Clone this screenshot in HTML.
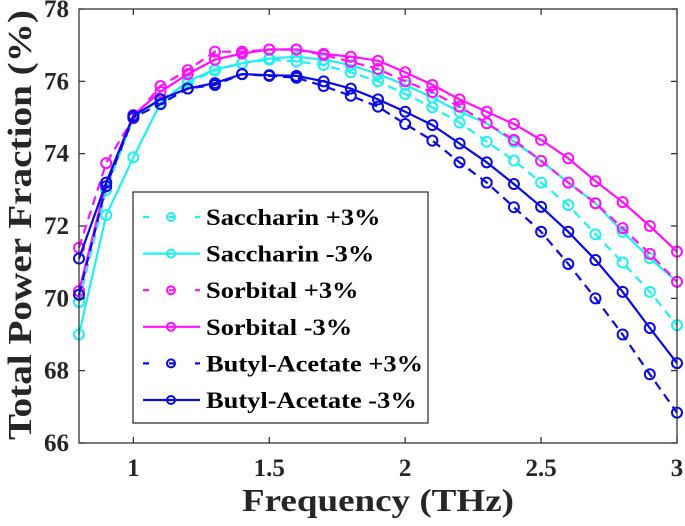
<!DOCTYPE html>
<html><head><meta charset="utf-8"><style>
html,body{margin:0;padding:0;background:#fff}
svg{display:block;font-family:"Liberation Serif",serif;font-weight:bold}
</style></head><body>
<svg id="chart" width="685" height="526"></svg>
<script>
const xValues=[0.8,0.9,1.0,1.1,1.2,1.3,1.4,1.5,1.6,1.7,1.8,1.9,2.0,2.1,2.2,2.3,2.4,2.5,2.6,2.7,2.8,2.9,3.0];
const saccharinPlus=[69.9,73.0,75.0,75.5,75.95,76.3,76.5,76.6,76.55,76.45,76.25,76.0,75.65,75.28,74.86,74.33,73.81,73.2,72.58,71.77,70.99,70.18,69.26];
const saccharinMinus=[69.0,72.3,73.9,75.4,76.0,76.33,76.5,76.63,76.68,76.6,76.45,76.2,75.9,75.55,75.16,74.84,74.33,73.8,73.2,72.63,71.84,71.11,70.46];
const sorbitalPlus=[71.4,73.74,74.98,75.87,76.31,76.82,76.82,76.88,76.88,76.73,76.54,76.34,76.0,75.7,75.3,74.84,74.38,73.8,73.2,72.63,71.94,71.23,70.46];
const sorbitalMinus=[70.2,73.2,75.07,75.71,76.2,76.6,76.77,76.88,76.88,76.76,76.68,76.57,76.25,75.9,75.5,75.16,74.82,74.38,73.87,73.24,72.66,72.0,71.29];
const butylPlus=[70.1,73.1,75.0,75.37,75.8,75.9,76.2,76.15,76.1,75.87,75.6,75.3,74.82,74.36,73.76,73.2,72.52,71.84,70.95,70.0,69.0,67.9,66.84];
const butylMinus=[71.1,73.2,75.05,75.5,75.8,75.95,76.2,76.17,76.15,76.0,75.8,75.5,75.16,74.79,74.28,73.76,73.16,72.53,71.84,71.06,70.18,69.18,68.21];
const seriesNames=["Saccharin +3%","Saccharin -3%","Sorbital +3%","Sorbital -3%","Butyl-Acetate +3%","Butyl-Acetate -3%"];
const xTicks=[1,1.5,2,2.5,3];
const xTickLabels=["1","1.5","2","2.5","3"];
const yTicks=[66,68,70,72,74,76,78];
const yTickLabels=["66","68","70","72","74","76","78"];

const svg=document.getElementById('chart');
const NS='http://www.w3.org/2000/svg';
const L=79,R=677,T=9,B=443,xMin=0.8,xMax=3.0,yMin=66,yMax=78;
const sx=v=>L+(v-xMin)/(xMax-xMin)*(R-L);
const sy=v=>B-(v-yMin)/(yMax-yMin)*(B-T);
function mk(tag,attrs,parent){const e=document.createElementNS(NS,tag);for(const k in attrs)e.setAttribute(k,attrs[k]);(parent||svg).appendChild(e);return e;}

const series=[
 {d:saccharinPlus,c:'#20f0f0',dash:true,n:'saccharin-plus'},
 {d:saccharinMinus,c:'#20f0f0',dash:false,n:'saccharin-minus'},
 {d:sorbitalPlus,c:'#ff10ff',dash:true,n:'sorbital-plus'},
 {d:sorbitalMinus,c:'#ff10ff',dash:false,n:'sorbital-minus'},
 {d:butylPlus,c:'#0a0ae6',dash:true,n:'butyl-acetate-plus'},
 {d:butylMinus,c:'#0a0ae6',dash:false,n:'butyl-acetate-minus'}
];
series.forEach(s=>{
 const g=mk('g',{});
 
 
 const pts=s.d.map((v,i)=>sx(xValues[i]).toFixed(1)+','+sy(v).toFixed(1)).join(' ');
 const pl=mk('polyline',{points:pts,fill:'none',stroke:s.c,'stroke-width':2.2,'stroke-dasharray':s.dash?'9,6':'none'},g);
 
 
 s.d.forEach((v,i)=>{
  const c=mk('circle',{cx:sx(xValues[i]),cy:sy(v),r:5,fill:'none',stroke:s.c,'stroke-width':2},g);
  
  
 });
});

const fr=mk('rect',{x:L,y:T,width:R-L,height:B-T,fill:'none',stroke:'#262626','stroke-width':1.2});


xTicks.forEach((t,i)=>{
 mk('line',{x1:sx(t),x2:sx(t),y1:B,y2:B-6,stroke:'#262626','stroke-width':1.2});
 mk('line',{x1:sx(t),x2:sx(t),y1:T,y2:T+6,stroke:'#262626','stroke-width':1.2});
 const tx=mk('text',{x:sx(t),y:476,'text-anchor':'middle','font-size':25,fill:'#262626'});
 tx.textContent=xTickLabels[i];
 
 
});
yTicks.forEach((t,i)=>{
 mk('line',{x1:L,x2:L+6,y1:sy(t),y2:sy(t),stroke:'#262626','stroke-width':1.2});
 mk('line',{x1:R,x2:R-6,y1:sy(t),y2:sy(t),stroke:'#262626','stroke-width':1.2});
 const tx=mk('text',{x:L-10,y:sy(t)+8,'text-anchor':'end','font-size':25,fill:'#262626'});
 tx.textContent=yTickLabels[i];
 
 
});
const xt=mk('text',{x:378,y:511,'text-anchor':'middle','font-size':32,fill:'#262626',textLength:272,lengthAdjust:'spacingAndGlyphs'});
xt.textContent='Frequency (THz)';


const yt=mk('text',{x:0,y:0,'text-anchor':'middle','font-size':34,fill:'#262626',textLength:430,lengthAdjust:'spacingAndGlyphs',transform:'translate(31,225) rotate(-90)'});
yt.textContent='Total Power Fraction (%)';



const lg=mk('g',{});


mk('rect',{x:133,y:192,width:295,height:231,fill:'#fff',stroke:'#262626','stroke-width':1.2},lg);
series.forEach((s,i)=>{
 const y=217+i*36.6;
 const e=mk('g',{},lg);
 
 
 mk('line',{x1:143,x2:200,y1:y,y2:y,stroke:s.c,'stroke-width':2.2,'stroke-dasharray':s.dash?'6,20':'none'},e);
 mk('circle',{cx:171,cy:y,r:4,fill:'none',stroke:s.c,'stroke-width':2},e);
 const t=mk('text',{x:206,y:y+8,'font-size':23,fill:'#000'},e);
 t.textContent=seriesNames[i];
 const w=t.getComputedTextLength();
 t.setAttribute('textLength',(w*1.15).toFixed(1));
 t.setAttribute('lengthAdjust','spacingAndGlyphs');
});
</script>
</body></html>
